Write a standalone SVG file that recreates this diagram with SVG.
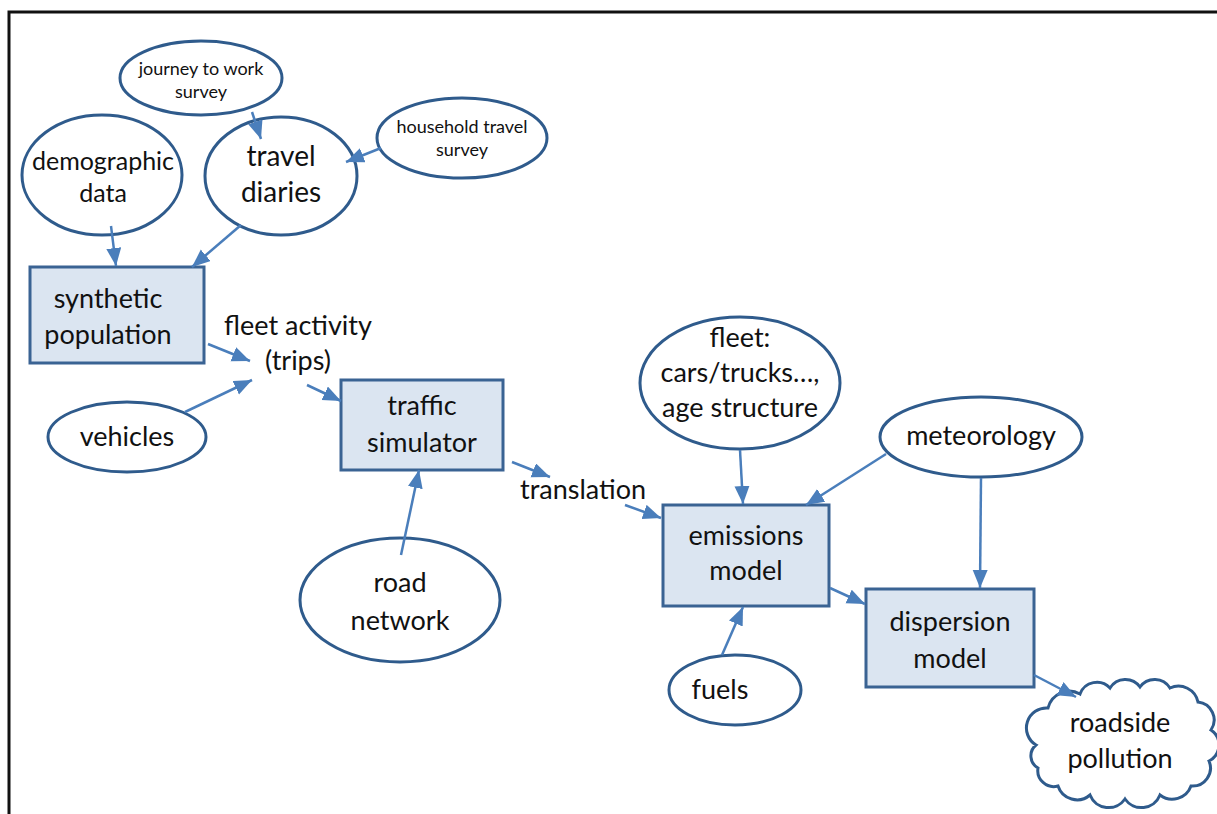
<svg xmlns="http://www.w3.org/2000/svg" width="1217" height="814" viewBox="0 0 1217 814">
<defs>
<style>
.ell{fill:#ffffff;stroke:#2f5b8c;stroke-width:3}
.box{fill:#dbe5f1;stroke:#3a6393;stroke-width:3}
.t{font-family:Lato,"Liberation Sans",sans-serif;fill:#111;text-anchor:middle}
.big{font-size:27px}
.sm{font-size:18px}
.c{stroke:#4a7ebb;stroke-width:2.5;fill:none;marker-end:url(#ah)}
</style>
<marker id="ah" markerUnits="userSpaceOnUse" markerWidth="20" markerHeight="16" refX="18" refY="7.5" orient="auto">
<path d="M0,0 L18,7.5 L0,15 Z" fill="#4a7ebb"/>
</marker>
</defs>
<rect width="1217" height="814" fill="#ffffff"/>
<path d="M9,814 L9,12 L1217,12" fill="none" stroke="#111" stroke-width="3"/>

<g id="journey">
<ellipse class="ell" cx="201" cy="78" rx="81" ry="37"/>
<text class="t sm" x="201" y="75">journey to work</text>
<text class="t sm" x="201" y="98">survey</text>
</g>
<g id="household">
<ellipse class="ell" cx="462" cy="138" rx="85" ry="40"/>
<text class="t sm" x="462" y="133">household travel</text>
<text class="t sm" x="462" y="156">survey</text>
</g>
<g id="demographic">
<ellipse class="ell" cx="102" cy="175" rx="80" ry="60"/>
<text class="t big" x="103" y="170" style="font-size:25px">demographic</text>
<text class="t big" x="103" y="202" style="font-size:25px">data</text>
</g>
<g id="travel">
<ellipse class="ell" cx="281" cy="176" rx="76" ry="59"/>
<text class="t big" x="281" y="166" style="font-size:28px">travel</text>
<text class="t big" x="281" y="202" style="font-size:28px">diaries</text>
</g>
<g id="synthetic">
<rect class="box" x="30" y="267" width="174" height="96"/>
<text class="t big" x="108" y="308">synthetic</text>
<text class="t big" x="108" y="344">population</text>
</g>
<g id="fleetactivity">
<text class="t big" x="298" y="335">fleet activity</text>
<text class="t big" x="298" y="370">(trips)</text>
</g>
<g id="vehicles">
<ellipse class="ell" cx="127" cy="437" rx="79" ry="35"/>
<text class="t big" x="127" y="446">vehicles</text>
</g>
<g id="traffic">
<rect class="box" x="341" y="380" width="162" height="90"/>
<text class="t big" x="422" y="415">traffic</text>
<text class="t big" x="422" y="452">simulator</text>
</g>
<g id="translation">
<text class="t big" x="583" y="499">translation</text>
</g>
<g id="road">
<ellipse class="ell" cx="400" cy="600" rx="100" ry="62"/>
<text class="t big" x="400" y="592">road</text>
<text class="t big" x="400" y="630">network</text>
</g>
<g id="fleet">
<ellipse class="ell" cx="740" cy="383" rx="100" ry="66"/>
<text class="t big" x="740" y="347">fleet:</text>
<text class="t big" x="740" y="382">cars/trucks…,</text>
<text class="t big" x="740" y="417">age structure</text>
</g>
<g id="meteorology">
<ellipse class="ell" cx="981" cy="437" rx="101" ry="40"/>
<text class="t big" x="981" y="445">meteorology</text>
</g>
<g id="emissions">
<rect class="box" x="663" y="505" width="166" height="101"/>
<text class="t big" x="746" y="545">emissions</text>
<text class="t big" x="746" y="580">model</text>
</g>
<g id="dispersion">
<rect class="box" x="866" y="589" width="168" height="98"/>
<text class="t big" x="950" y="631">dispersion</text>
<text class="t big" x="950" y="668">model</text>
</g>
<g id="fuels">
<ellipse class="ell" cx="735" cy="690" rx="66" ry="35"/>
<text class="t big" x="720" y="699">fuels</text>
</g>
<g id="roadside">
<path class="ell" d="M1036,745 A20,20 0 0 1 1048,708 A22,22 0 0 1 1080,694 A18,18 0 0 1 1110,688 A18,18 0 0 1 1140,687 A18,18 0 0 1 1170,688 A20,20 0 0 1 1198,702 A18,18 0 0 1 1211,730 A18,18 0 0 1 1209,761 A18,18 0 0 1 1191,786 A20,20 0 0 1 1160,795 A20,20 0 0 1 1125,799 A20,20 0 0 1 1090,795 A20,20 0 0 1 1058,786 A16,16 0 0 1 1038,768 A14,14 0 0 1 1036,745 Z"/>
<text class="t big" x="1120" y="732">roadside</text>
<text class="t big" x="1120" y="768">pollution</text>
</g>

<g id="connectors">
<line class="c" x1="252" y1="112" x2="261" y2="139"/>
<line class="c" x1="381" y1="148" x2="346" y2="162"/>
<line class="c" x1="111" y1="226" x2="116" y2="266"/>
<line class="c" x1="241" y1="225" x2="192" y2="267"/>
<line class="c" x1="208" y1="344" x2="250" y2="361"/>
<line class="c" x1="185" y1="412" x2="252" y2="380"/>
<line class="c" x1="307" y1="385" x2="341" y2="401"/>
<line class="c" x1="401" y1="555" x2="419" y2="470"/>
<line class="c" x1="512" y1="462" x2="550" y2="477"/>
<line class="c" x1="625" y1="505" x2="661" y2="518"/>
<line class="c" x1="740" y1="450" x2="743" y2="504"/>
<line class="c" x1="886" y1="454" x2="806" y2="505"/>
<line class="c" x1="981" y1="478" x2="980" y2="588"/>
<line class="c" x1="830" y1="588" x2="865" y2="604"/>
<line class="c" x1="722" y1="655" x2="743" y2="607"/>
<line class="c" x1="1034" y1="675" x2="1076" y2="697"/>
</g>
</svg>
